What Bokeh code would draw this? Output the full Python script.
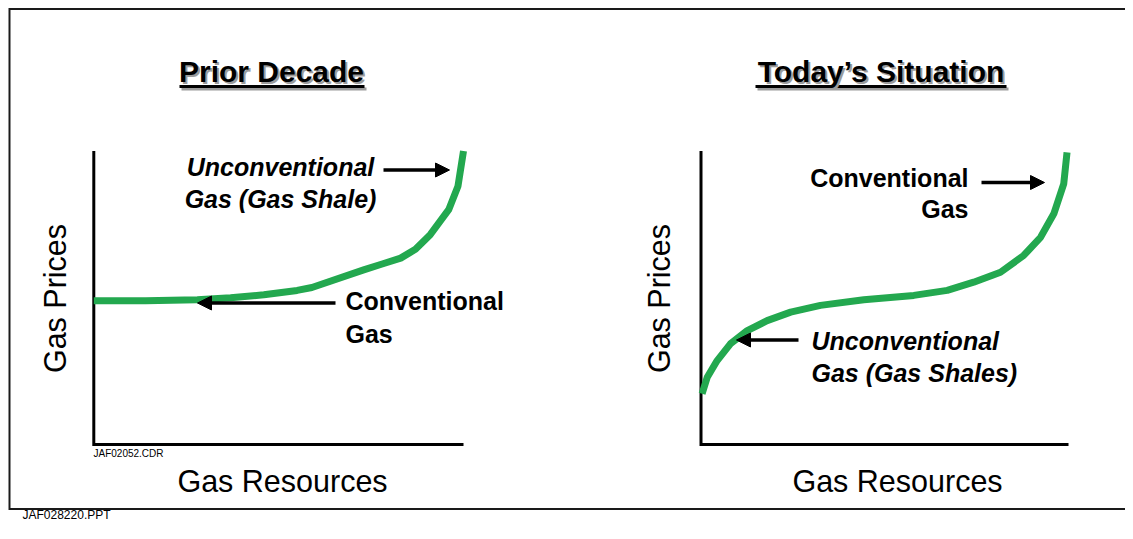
from bokeh.plotting import figure
from bokeh.models import Range1d, Label, Arrow, NormalHead
from bokeh.embed import file_html
from bokeh.resources import INLINE

# ---------------- data ----------------
prior_x = [0, 14, 28, 37, 46, 55, 59, 73, 78, 83, 87, 91, 96, 98.5, 100]
prior_y = [49, 49, 49.3, 50, 51, 52.5, 53.5, 59.5, 61.5, 63.5, 66.5, 71.5, 80, 88, 100]

today_x = [0.3, 1.7, 4.4, 8.0, 12.6, 18.0, 24.4, 32.5, 44.3, 57.9, 67.0, 74.2, 81.5, 87.8, 92.4, 96.0, 98.7, 99.6]
today_y = [17.3, 22.9, 28.6, 34.3, 38.8, 42.2, 45.1, 47.4, 49.3, 50.8, 52.5, 55.3, 58.7, 64.4, 70.6, 78.6, 88.8, 99.5]

axis_x = [0, 0, 100]
axis_y = [100, 0, 0]

titles = ["Prior Decade", "Today\u2019s Situation"]
x_label = "Gas Resources"
y_label = "Gas Prices"
left_notes = [["Unconventional", "Gas (Gas Shale)"], ["Conventional", "Gas"]]
right_notes = [["Conventional", "Gas"], ["Unconventional", "Gas (Gas Shales)"]]
file_tags = ["JAF02052.CDR", "JAF028220.PPT"]

# ---------------- layout ----------------
W, H = 1125, 523
GREEN = "#23a84f"
FONT = "Liberation Sans"

p = figure(width=W, height=H, output_backend="svg", toolbar_location=None,
           x_range=Range1d(0, W), y_range=Range1d(H, 0),
           x_axis_type=None, y_axis_type=None, min_border=0,
           outline_line_color=None, background_fill_color="white",
           border_fill_color="white")
p.grid.visible = False


def add_panel(name, px0, px100, py0, py100):
    span_x = 100.0 * W / (px100 - px0)
    a = -px0 * span_x / W
    span_y = 100.0 * H / (py0 - py100)
    s = -(H - py0) * span_y / H
    p.extra_x_ranges[name] = Range1d(a, a + span_x)
    p.extra_y_ranges[name] = Range1d(s, s + span_y)


add_panel("L", 93.3, 463.0, 444.0, 150.5)
add_panel("R", 700.5, 1068.0, 444.0, 150.5)

# frame (open on the right, like the slide border running off the page)
p.line([W + 20, 9, 9, W + 20], [8.5, 8.5, 508.5, 508.5],
       line_color="#1a1a1a", line_width=2, line_join="miter")

# axes (L shape) and curves
for nm in ("L", "R"):
    p.line(axis_x, axis_y, x_range_name=nm, y_range_name=nm,
           line_color="black", line_width=3, line_join="miter")

p.line(prior_x, prior_y, x_range_name="L", y_range_name="L",
       line_color=GREEN, line_width=7, line_join="round")
p.line(today_x, today_y, x_range_name="R", y_range_name="R",
       line_color=GREEN, line_width=7, line_join="round")

SHIFT = 0.4  # em correction for the label anchor


def lab(x, y, text, size, style="normal", align="left", color="black",
        angle=0):
    if angle:
        x = x - SHIFT * size
    else:
        y = y - SHIFT * size
    p.add_layout(Label(x=x, y=y, text=text, text_font=FONT,
                       text_font_size=f"{size}px", text_font_style=style,
                       text_align=align, text_baseline="alphabetic",
                       text_color=color, angle=angle))


# titles with shadow + underline
SHADOW = "#9c9c9c"
for cx, t, ux0, ux1 in ((271, titles[0], 179, 364), (880.5, titles[1], 755, 1006)):
    lab(cx + 2, 85, t, 30, "bold", "center", SHADOW)
    p.segment(x0=[ux0 + 2], y0=[88.5], x1=[ux1 + 2], y1=[88.5],
              line_color=SHADOW, line_width=3)
    lab(cx, 83, t, 30, "bold", "center")
    p.segment(x0=[ux0], y0=[86], x1=[ux1], y1=[86],
              line_color="black", line_width=3)

# axis titles
for bx, cx in ((67, 282), (671, 897)):
    lab(bx, 298, y_label, 30.5, "normal", "center", angle=1.5708)
    lab(cx, 493, x_label, 30.5, "normal", "center")

# annotations - left panel
lab(280, 176.5, left_notes[0][0], 25, "bold italic", "center")
lab(280, 208.5, left_notes[0][1], 25, "bold italic", "center")
lab(345, 310, left_notes[1][0], 25, "bold", "left")
lab(345, 343, left_notes[1][1], 25, "bold", "left")

# annotations - right panel
lab(968, 187, right_notes[0][0], 25, "bold", "right")
lab(968, 218.5, right_notes[0][1], 25, "bold", "right")
lab(811, 350, right_notes[1][0], 25, "bold italic", "left")
lab(811, 382, right_notes[1][1], 25, "bold italic", "left")

# arrows
for xs, ys, xe, ye in ((383, 169.5, 449, 169.5), (335, 302.5, 197, 302.5),
                       (981, 182, 1044, 182), (798, 339.5, 736, 339.5)):
    p.add_layout(Arrow(x_start=xs, y_start=ys, x_end=xe, y_end=ye,
                       line_color="black", line_width=3.5,
                       end=NormalHead(size=14, fill_color="black",
                                      line_color="black", line_width=1)))

# file tags
lab(93, 456.5, file_tags[0], 10, "normal", "left")
lab(22, 519.5, file_tags[1], 12, "normal", "left")

open("out.html", "w").write(file_html(p, INLINE))
